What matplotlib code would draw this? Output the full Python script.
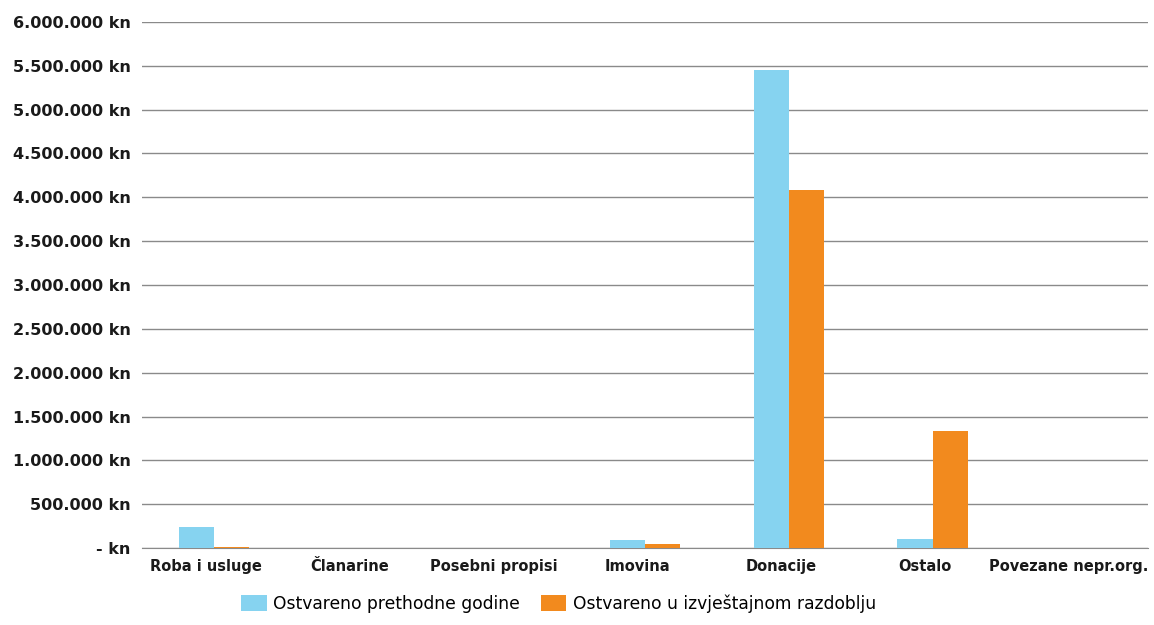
import numpy as np
import matplotlib
matplotlib.use('Agg')
import matplotlib.pyplot as plt
from matplotlib.ticker import FuncFormatter
import matplotlib.transforms as mtransforms

categories = ['Roba i usluge', 'Članarine', 'Posebni propisi', 'Imovina',
              'Donacije', 'Ostalo', 'Povezane nepr.org.']
prev_year = [240000, 0, 0, 95000, 5450000, 100000, 0]
this_period = [15000, 0, 0, 45000, 4080000, 1330000, 0]
series_labels = ['Ostvareno prethodne godine', 'Ostvareno u izvještajnom razdoblju']
y_ticks = np.arange(0, 6000001, 500000)

blue = '#86d3f0'
orange = '#f28a1e'


def kn_format(v, pos):
    if v == 0:
        return '- kn'
    return f'{int(v):,} kn'.replace(',', '.')


fig = plt.figure(figsize=(11.54, 6.25), dpi=100)
ax = fig.add_axes([0.123, 0.123, 0.872, 0.842])

x = np.arange(len(categories))
w = 0.245
ax.bar(x - w / 2, prev_year, width=w, color=blue, label=series_labels[0], zorder=3)
ax.bar(x + w / 2, this_period, width=w, color=orange, label=series_labels[1], zorder=3)

ax.set_xlim(-0.5, len(categories) - 0.5)
ax.set_ylim(0, 6000000)
ax.set_yticks(y_ticks)
ax.yaxis.set_major_formatter(FuncFormatter(kn_format))
ax.set_xticks(x)
ax.set_xticklabels(categories)
ax.tick_params(axis='both', length=0, colors='#1a1a1a')
ax.tick_params(axis='y', pad=8, labelsize=11.5)
ax.tick_params(axis='x', pad=8, labelsize=10.5)
for lbl in ax.get_xticklabels() + ax.get_yticklabels():
    lbl.set_fontweight('semibold')

# labels sit a little left of the bar pairs in the original
shift = mtransforms.ScaledTranslation(-8 / 100, 0, fig.dpi_scale_trans)
for lbl in ax.get_xticklabels():
    lbl.set_transform(lbl.get_transform() + shift)

ax.grid(axis='y', color='#8a8a8a', linewidth=1.0, zorder=0)
for s in ['top', 'right', 'left']:
    ax.spines[s].set_visible(False)
ax.spines['bottom'].set_color('#8a8a8a')

fig.legend(loc='lower center', bbox_to_anchor=(0.484, -0.005), ncol=2, frameon=False,
           fontsize=12.3, handlelength=1.5, handleheight=1.1, columnspacing=1.2,
           handletextpad=0.4)

fig.savefig('out.png', dpi=100)
